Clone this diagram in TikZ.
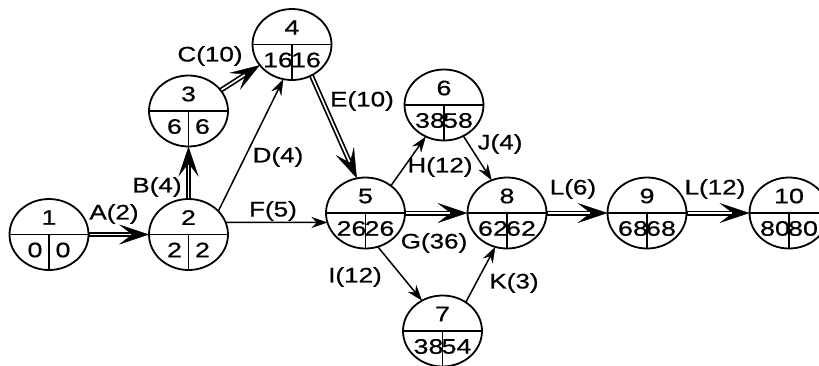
\documentclass[tikz,border=0pt]{standalone}
\usepackage{fontspec}
\setmainfont{Liberation Sans}[FakeStretch=1.24,FakeBold=0.6]
\newfontfamily\evfont{Liberation Sans}[FakeStretch=1.28,FakeBold=0.6]
\usetikzlibrary{shapes.geometric,arrows.meta}
\tikzset{
  ev/.style={ellipse, draw, line width=1.8pt, minimum width=79pt, minimum height=71pt, inner sep=0pt, outer sep=0pt, fill=white},
  divline/.style={line width=1.5pt},
  evnum/.style={inner sep=0pt, font=\evfont\fontsize{21pt}{25pt}\selectfont},
  lbl/.style={inner sep=0pt, font=\fontsize{21pt}{25pt}\selectfont},
  act/.style={line width=1.5pt, -{Stealth[length=16pt,width=11pt,inset=5.5pt,line width=0.4pt]}},
  critouter/.style={line width=5pt, -{Stealth[length=30pt,width=20pt,inset=13pt,line width=0.4pt]}},
  critinner/.style={draw=white, line width=1.6pt, shorten >=18pt, shorten <=1pt},
}
\newcommand\evnode[6]{%
  \node[ev] (#1) at (#2,#3) {};
  \draw[divline] (#1.west) -- (#1.east);
  \draw[divline] (#1.center) -- (#1.south);
  \node[evnum] (#1t) at ([yshift=17pt]#1.center) {#4};
  \node[evnum] (#1e) at ([xshift=-14pt,yshift=-15.5pt]#1.center) {#5};
  \node[evnum] (#1l) at ([xshift=14pt,yshift=-15.5pt]#1.center) {#6};
}
\begin{document}
\begin{tikzpicture}[x=1pt,y=-1pt]
\path[fill=white] (0,0) rectangle (819,365);
\useasboundingbox (0,0) rectangle (819,365);
\evnode{n1}{49}{234.5}{1}{0}{0}
\evnode{n2}{188.5}{234.5}{2}{2}{2}
\evnode{n3}{188.5}{111}{3}{6}{6}
\evnode{n4}{292}{44.5}{4}{16}{16}
\evnode{n5}{365.5}{213}{5}{26}{26}
\evnode{n6}{444}{105}{6}{38}{58}
\evnode{n7}{442.5}{331}{7}{38}{54}
\evnode{n8}{507}{213}{8}{62}{62}
\evnode{n9}{647}{213}{9}{68}{68}
\evnode{n10}{789}{213}{10}{80}{80}
% critical activities
\draw[critouter] (n1) -- (n2); \draw[critinner] (n1) -- (n2);
\draw[critouter] (n2) -- (n3); \draw[critinner] (n2) -- (n3);
\draw[critouter] (n3) -- (n4); \draw[critinner] (n3) -- (n4);
\draw[critouter] (n4.302) -- (n5.104); \draw[critinner] (n4.302) -- (n5.104);
\draw[critouter] (n5) -- (n8); \draw[critinner] (n5) -- (n8);
\draw[critouter] (n8) -- (n9); \draw[critinner] (n8) -- (n9);
\draw[critouter] (n9) -- (n10); \draw[critinner] (n9) -- (n10);
% other activities
\draw[act] (n2.38) -- (n4.256);
\draw[act] (n2.18) -- (n5.194);
\draw[act] (n5.47) -- (n6.240);
\draw[act] (n6.302) -- (n8.115);
\draw[act] (n5.290) -- (n7.124);
\draw[act] (n7.51) -- (n8.251);
% labels
\node[lbl] (lA) at (114,214) {A(2)};
\node[lbl] (lB) at (157,187) {B(4)};
\node[lbl] (lC) at (210,56) {C(10)};
\node[lbl] (lD) at (278,157) {D(4)};
\node[lbl] (lE) at (362,101) {E(10)};
\node[lbl] (lF) at (273,211) {F(5)};
\node[lbl] (lG) at (434,243) {G(36)};
\node[lbl] (lH) at (440,167) {H(12)};
\node[lbl] (lI) at (355,277) {I(12)};
\node[lbl] (lJ) at (500,144) {J(4)};
\node[lbl] (lK) at (514,283) {K(3)};
\node[lbl] (lL1) at (573,189) {L(6)};
\node[lbl] (lL2) at (715,189) {L(12)};
\end{tikzpicture}
\end{document}
